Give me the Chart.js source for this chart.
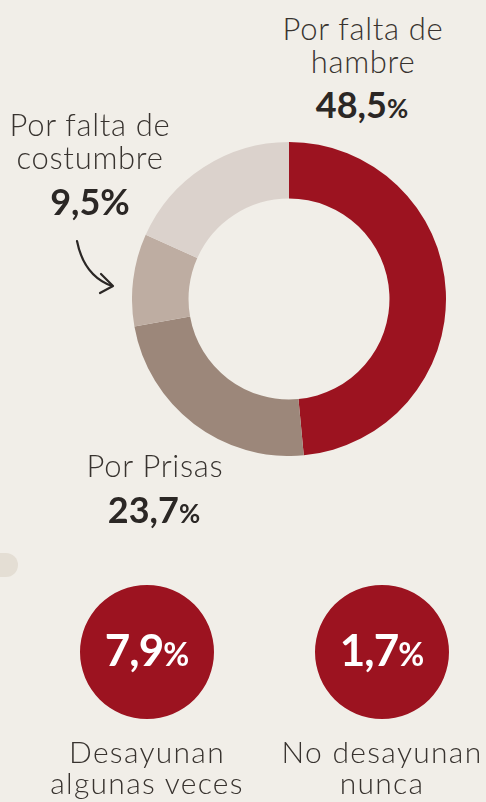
<!DOCTYPE html>
<html lang="es">
<head>
<meta charset="utf-8">
<script src="https://cdn.jsdelivr.net/npm/chart.js@4/dist/chart.umd.min.js"></script>
<style>
  html, body { margin: 0; padding: 0; }
  body { width: 486px; height: 802px; background: #f1eee8; position: relative; overflow: hidden;
         font-family: "Lato Light", Lato, "Open Sans", sans-serif; color: #2b2725; }
  .lbl { position: absolute; transform: translateX(-50%); text-align: center; white-space: nowrap;
         font-weight: 300; font-size: 31px; line-height: 33px; letter-spacing: 0.7px; color: #38332f; }
  .val { position: absolute; transform: translateX(-50%); text-align: center; white-space: nowrap;
         font-family: Lato, sans-serif; font-weight: 700; font-size: 36px; line-height: 36px; }
  .val small { font-size: 0.72em; }
  .cval { position: absolute; transform: translateX(-50%); text-align: center; white-space: nowrap;
          font-family: Lato, sans-serif; font-weight: 700; font-size: 44px; line-height: 44px; letter-spacing: -1px; color: #ffffff; z-index: 2; }
  .cval small { font-size: 0.72em; letter-spacing: 0; }
  .clbl { position: absolute; transform: translateX(-50%); text-align: center; white-space: nowrap;
          font-weight: 300; font-size: 30px; line-height: 31px; letter-spacing: 1.3px; color: #38332f; }
  #donutWrap { position: absolute; left: 132px; top: 142px; width: 314px; height: 314px; }
  .circWrap { position: absolute; width: 134px; height: 134px; top: 585px; }
  .pill { position: absolute; left: -12px; top: 553px; width: 30px; height: 24px; border-radius: 12px; background: #e4ded4; }
</style>
</head>
<body>
<div id="donutWrap"><canvas id="donut" width="314" height="314"></canvas></div>

<div class="lbl" id="l0" style="left:363px; top:12px;"></div>
<div class="val" id="v0" style="left:362px; top:86px;"></div>

<div class="lbl" id="l2" style="left:90px; top:108px;"></div>
<div class="val" id="v2" style="left:90px; top:183px;"></div>

<div class="lbl" id="l1" style="left:155px; top:449px;"></div>
<div class="val" id="v1" style="left:154px; top:491px;"></div>

<svg style="position:absolute; left:0; top:0;" width="486" height="802">
  <path d="M77 241 Q 84 276 112 286" fill="none" stroke="#2b2725" stroke-width="2.2" stroke-linecap="round"/>
  <path d="M101 274 L 113 286 L 100 293" fill="none" stroke="#2b2725" stroke-width="2.2" stroke-linecap="round" stroke-linejoin="round"/>
</svg>

<div class="pill"></div>

<div class="circWrap" style="left:80px;"><canvas id="c0" width="134" height="134"></canvas></div>
<div class="circWrap" style="left:315px;"><canvas id="c1" width="134" height="134"></canvas></div>
<div class="cval" id="cv0" style="left:147px; top:627px;"></div>
<div class="cval" id="cv1" style="left:382px; top:627px;"></div>
<div class="clbl" id="cl0" style="left:147px; top:736px;"></div>
<div class="clbl" id="cl1" style="left:382px; top:736px;"></div>

<script>
// ---- data ----
const categories = ["Por falta de hambre", "Por Prisas", "Por falta de costumbre", "Otros"];
const categoryLines = [["Por falta de", "hambre"], ["Por Prisas"], ["Por falta de", "costumbre"], [""]];
const values = [48.5, 23.7, 9.5, 18.3];
const sliceColors = ["#9c1320", "#9c877a", "#beada2", "#dbd2cc"];

const circleCategories = ["Desayunan algunas veces", "No desayunan nunca"];
const circleLines = [["Desayunan", "algunas veces"], ["No desayunan", "nunca"]];
const circleValues = [7.9, 1.7];

const fmt = v => v.toFixed(1).replace(".", ",");

// ---- doughnut ----
new Chart(document.getElementById("donut"), {
  type: "doughnut",
  data: {
    labels: categories,
    datasets: [{ data: values, backgroundColor: sliceColors, borderWidth: 0, hoverOffset: 0 }]
  },
  options: {
    responsive: false,
    animation: false,
    cutout: "64%",
    rotation: 0,
    layout: { padding: 0 },
    plugins: { legend: { display: false }, tooltip: { enabled: false } }
  }
});

// labels from data
[0, 1, 2].forEach(i => {
  document.getElementById("l" + i).innerHTML = categoryLines[i].join("<br>");
  const pct = i === 2 ? "%" : "<small>%</small>";
  document.getElementById("v" + i).innerHTML = fmt(values[i]) + pct;
});

// ---- circles ----
circleValues.forEach((v, i) => {
  new Chart(document.getElementById("c" + i), {
    type: "pie",
    data: {
      labels: [circleCategories[i]],
      datasets: [{ data: [v], backgroundColor: ["#9c1320"], borderWidth: 0, hoverOffset: 0 }]
    },
    options: {
      responsive: false,
      animation: false,
      layout: { padding: 0 },
      plugins: { legend: { display: false }, tooltip: { enabled: false } }
    }
  });
  document.getElementById("cv" + i).innerHTML = fmt(v) + "<small>%</small>";
  document.getElementById("cl" + i).innerHTML = circleLines[i].join("<br>");
});
</script>
</body>
</html>
